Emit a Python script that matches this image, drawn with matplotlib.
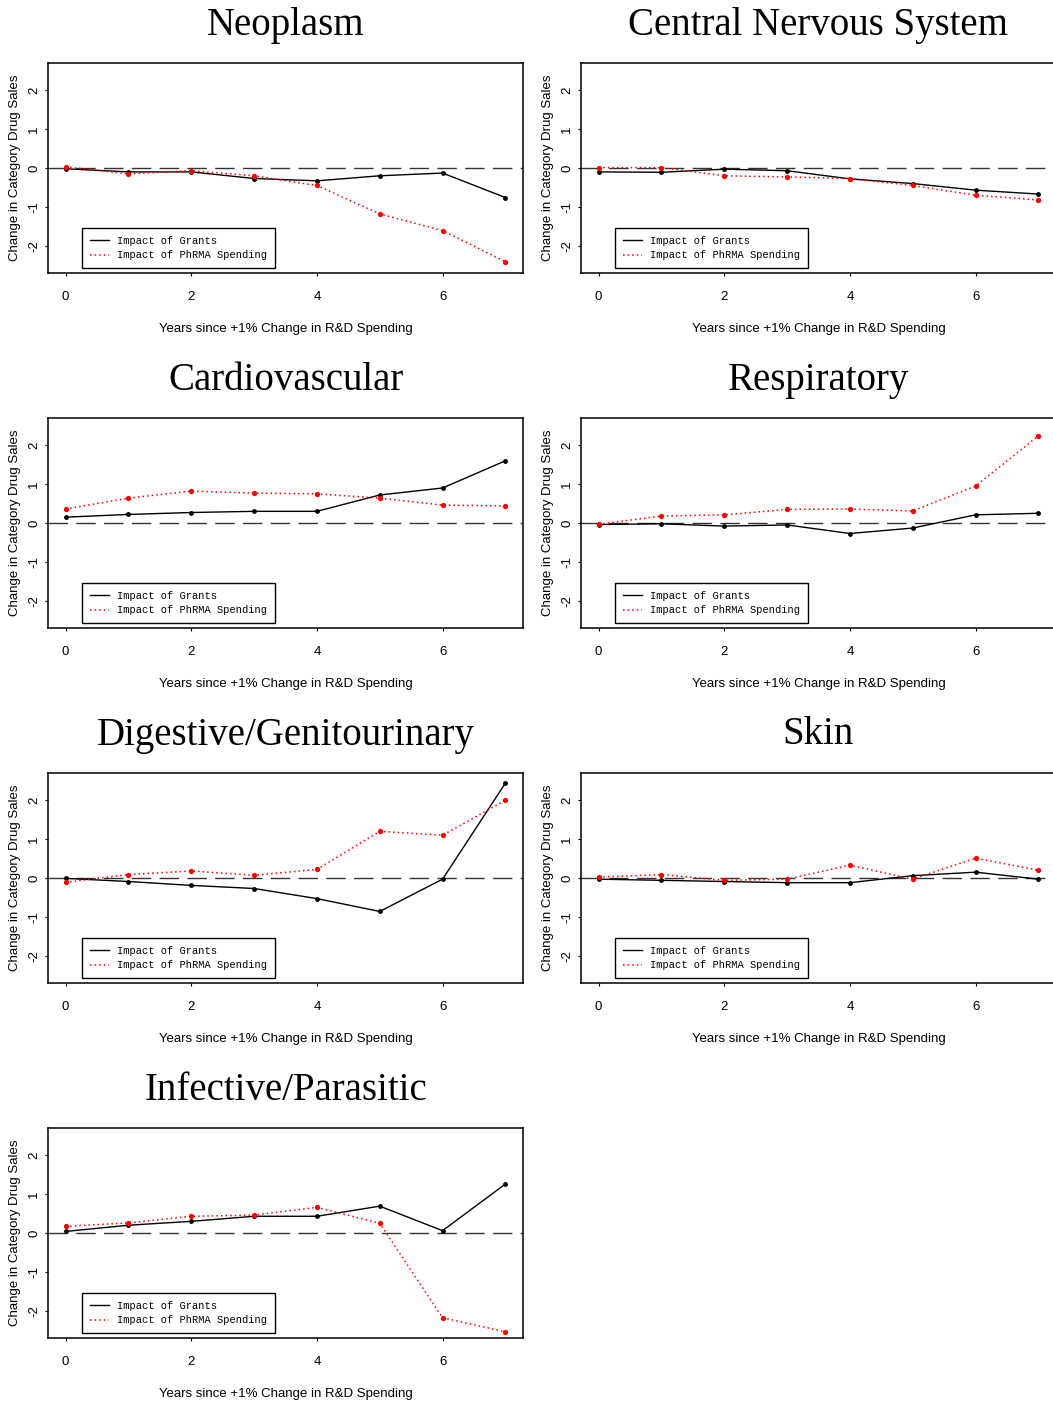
import numpy as np
import matplotlib
matplotlib.use("Agg")
import matplotlib.pyplot as plt

# years since the +1% change
years = [0, 1, 2, 3, 4, 5, 6, 7]

titles = ["Neoplasm", "Central Nervous System", "Cardiovascular", "Respiratory",
          "Digestive/Genitourinary", "Skin", "Infective/Parasitic"]

# impact of grants (black solid)
grants_neo = [-0.02, -0.10, -0.10, -0.27, -0.33, -0.20, -0.13, -0.76]
grants_cns = [-0.10, -0.11, -0.03, -0.07, -0.28, -0.40, -0.57, -0.67]
grants_cardio = [0.15, 0.22, 0.27, 0.30, 0.30, 0.72, 0.90, 1.60]
grants_resp = [-0.04, -0.02, -0.08, -0.05, -0.27, -0.13, 0.21, 0.25]
grants_dig = [-0.01, -0.09, -0.19, -0.27, -0.53, -0.86, -0.03, 2.44]
grants_skin = [-0.03, -0.06, -0.09, -0.12, -0.12, 0.06, 0.15, -0.03]
grants_inf = [0.04, 0.20, 0.30, 0.43, 0.43, 0.69, 0.06, 1.26]

# impact of PhRMA spending (red dotted)
phrma_neo = [0.03, -0.15, -0.07, -0.20, -0.45, -1.18, -1.61, -2.41]
phrma_cns = [0.01, 0.01, -0.20, -0.23, -0.27, -0.45, -0.70, -0.82]
phrma_cardio = [0.36, 0.64, 0.82, 0.77, 0.75, 0.64, 0.46, 0.44]
phrma_resp = [-0.03, 0.18, 0.21, 0.35, 0.36, 0.31, 0.95, 2.24]
phrma_dig = [-0.11, 0.09, 0.18, 0.07, 0.22, 1.20, 1.10, 2.00]
phrma_skin = [0.02, 0.09, -0.06, -0.03, 0.33, -0.03, 0.51, 0.20]
phrma_inf = [0.17, 0.26, 0.43, 0.46, 0.66, 0.25, -2.18, -2.54]

grants = [grants_neo, grants_cns, grants_cardio, grants_resp, grants_dig, grants_skin, grants_inf]
phrma = [phrma_neo, phrma_cns, phrma_cardio, phrma_resp, phrma_dig, phrma_skin, phrma_inf]

W, H = 1053, 1405
fig = plt.figure(figsize=(W / 100, H / 100), dpi=100)

sans = ["Liberation Sans", "DejaVu Sans"]
box_w, box_h = 475, 210
lefts = [48, 581]
tops = [63, 418, 773, 1128]

for i, title in enumerate(titles):
    row, col = divmod(i, 2)
    l, t = lefts[col], tops[row]
    ax = fig.add_axes([l / W, 1 - (t + box_h) / H, box_w / W, box_h / H])
    ax.set_xlim(-0.28, 7.28)
    ax.set_ylim(-2.7, 2.7)

    ax.axhline(0, color="#333333", lw=1.0, dashes=[14, 6])
    ax.plot(years, grants[i], color="black", lw=1.0, label="Impact of Grants")
    ax.plot(years, grants[i], "o", color="black", ms=3.5, mec="none")
    ax.plot(years, phrma[i], color="red", lw=1.1, linestyle=(0, (1, 2)),
            label="Impact of PhRMA Spending")
    ax.plot(years, phrma[i], "o", color="red", ms=3.8, mec="none")

    ax.set_xticks([0, 2, 4, 6])
    ax.set_yticks([-2, -1, 0, 1, 2])
    ax.set_yticklabels(["-2", "-1", "0", "1", "2"], rotation=90, va="center")
    ax.tick_params(direction="out", length=2.2, width=0.8, labelsize=9.5)
    ax.tick_params(axis="y", pad=3.5)
    ax.tick_params(axis="x", pad=10.5)
    for lab in ax.get_xticklabels() + ax.get_yticklabels():
        lab.set_family(sans)
    for sp in ax.spines.values():
        sp.set_linewidth(1.1)

    ax.set_xlabel("Years since +1% Change in R&D Spending", family=sans, fontsize=9.5, labelpad=15)
    ax.set_ylabel("Change in Category Drug Sales", family=sans, fontsize=9.5, labelpad=5)
    ax.text(0.5, 1 + 38 / box_h, title, transform=ax.transAxes, ha="center", va="center",
            family=["Liberation Serif", "DejaVu Serif"], fontsize=28)

    leg = ax.legend(loc="lower left", bbox_to_anchor=(34 / box_w, 5 / box_h),
                    prop={"family": ["Liberation Mono", "DejaVu Sans Mono"], "size": 7.5},
                    fancybox=False, framealpha=1, edgecolor="black", handlelength=1.8,
                    borderpad=0.75, labelspacing=0.4, borderaxespad=0)
    leg.get_frame().set_linewidth(1.0)

fig.savefig("out.png", dpi=100)
